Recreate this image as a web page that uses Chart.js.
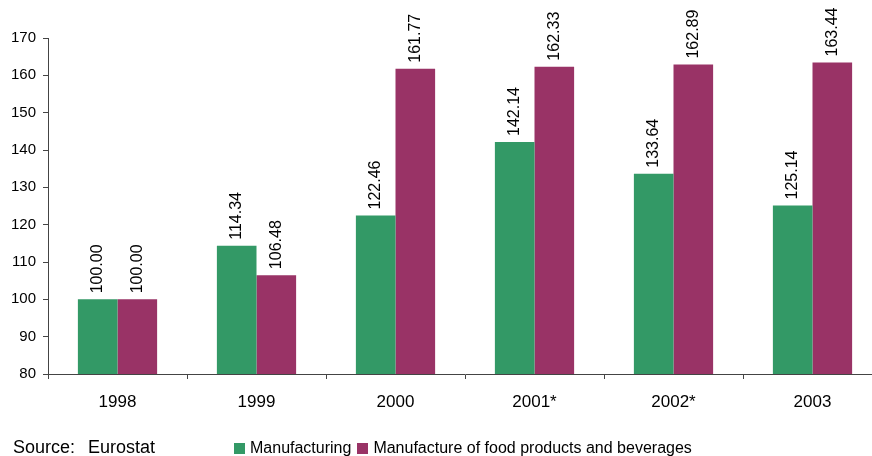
<!DOCTYPE html>
<html>
<head>
<meta charset="utf-8">
<script src="https://cdn.jsdelivr.net/npm/chart.js@4/dist/chart.umd.min.js"></script>
<style>
  html, body { margin: 0; padding: 0; background: #fff; overflow: hidden; width: 872px; height: 456px; }
  #wrap { position: absolute; left: 0; top: 0; width: 884px; height: 456px; }
  #source { position: absolute; left: 13px; top: 437px; font: 18px "Liberation Sans", Arial, sans-serif; word-spacing: 8px; color: #000; white-space: nowrap; }
  #legend { position: absolute; left: 234px; top: 439px; font: 16px "Liberation Sans", Arial, sans-serif; color: #000; white-space: nowrap; display: flex; align-items: center; }
  #legend .sw { display: inline-block; width: 11px; height: 11px; margin-right: 5px; }
  #legend .item { display: inline-flex; align-items: center; margin-right: 6px; }
</style>
</head>
<body>
<div id="wrap"><canvas id="c" width="884" height="456"></canvas></div>
<div id="source">Source: Eurostat</div>
<div id="legend"></div>
<script>
// Index values, 1998 = 100
const years = ['1998', '1999', '2000', '2001*', '2002*', '2003'];
const manufacturing = [100.00, 114.34, 122.46, 142.14, 133.64, 125.14];
const foodBeverages = [100.00, 106.48, 161.77, 162.33, 162.89, 163.44];
const seriesNames = ['Manufacturing', 'Manufacture of food products and beverages'];
const seriesColors = ['#339966', '#993366'];

const FONT = '"Liberation Sans", Arial, sans-serif';

// Vertical value labels above each bar
const barValueLabels = {
  id: 'barValueLabels',
  afterDatasetsDraw(chart) {
    const ctx = chart.ctx;
    ctx.save();
    ctx.font = '16px ' + FONT;
    ctx.fillStyle = '#000';
    ctx.textAlign = 'left';
    ctx.textBaseline = 'middle';
    chart.data.datasets.forEach((ds, di) => {
      chart.getDatasetMeta(di).data.forEach((bar, i) => {
        ctx.save();
        ctx.translate(bar.x, bar.y - 6);
        ctx.rotate(-Math.PI / 2);
        ctx.fillText(ds.data[i].toFixed(2), 0, 0);
        ctx.restore();
      });
    });
    ctx.restore();
  }
};

const chart = new Chart(document.getElementById('c'), {
  type: 'bar',
  data: {
    labels: years,
    datasets: [
      { label: seriesNames[0], data: manufacturing, backgroundColor: seriesColors[0] },
      { label: seriesNames[1], data: foodBeverages, backgroundColor: seriesColors[1] }
    ]
  },
  options: {
    responsive: false,
    animation: false,
    devicePixelRatio: 1,
    datasets: { bar: { categoryPercentage: 0.57, barPercentage: 1.0 } },
    layout: { padding: { top: 38, right: 2, bottom: 0, left: 0 } },
    plugins: { legend: { display: false }, tooltip: { enabled: false } },
    scales: {
      x: {
        grid: { offset: true, drawOnChartArea: false, drawTicks: true, tickLength: 5, color: '#444' },
        border: { color: '#444', width: 1 },
        ticks: { font: { size: 17, family: FONT }, color: '#000', padding: 13, maxRotation: 0 },
        afterFit(s) { s.height = 82; }
      },
      y: {
        min: 80, max: 170,
        grid: { drawOnChartArea: false, drawTicks: true, tickLength: 5, color: '#444' },
        border: { color: '#444', width: 1 },
        ticks: { stepSize: 10, font: { size: 15, family: FONT }, color: '#000', padding: 7 },
        afterFit(s) { s.width = 48; }
      }
    }
  },
  plugins: [barValueLabels]
});

// Legend row
const legend = document.getElementById('legend');
seriesNames.forEach((name, i) => {
  const item = document.createElement('span');
  item.className = 'item';
  const sw = document.createElement('span');
  sw.className = 'sw';
  sw.style.background = seriesColors[i];
  item.appendChild(sw);
  item.appendChild(document.createTextNode(name));
  legend.appendChild(item);
});
</script>
</body>
</html>
